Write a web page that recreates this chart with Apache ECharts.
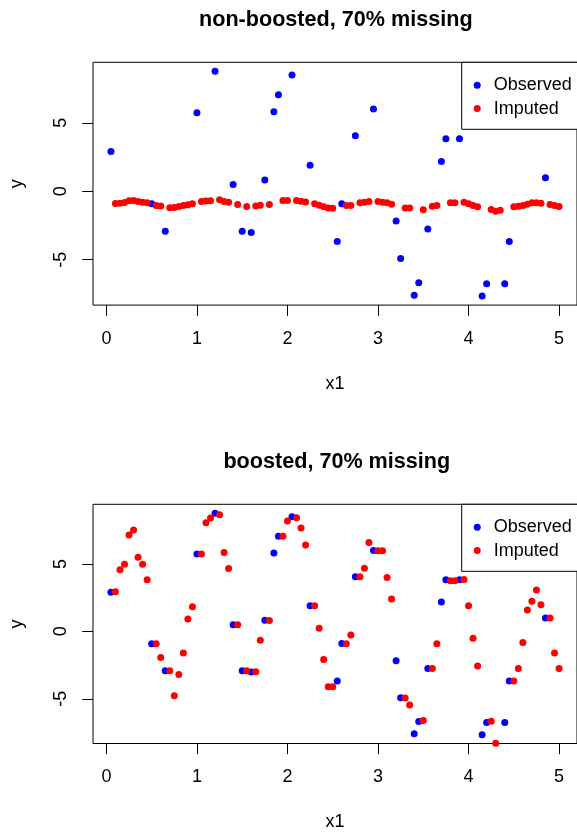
<!DOCTYPE html>
<html>
<head>
<meta charset="utf-8">
<script src="https://cdn.jsdelivr.net/npm/echarts@6/dist/echarts.min.js"></script>
<style>
html,body{margin:0;padding:0;background:#fff;}
#c{width:577px;height:832px;}
</style>
</head>
<body>
<div id="c"></div>
<script>
// ---- data ----
const titles = ['non-boosted, 70% missing', 'boosted, 70% missing'];
const legendNames = ['Observed', 'Imputed'];
const xTicks = [0, 1, 2, 3, 4, 5];
const yTicks = [-5, 0, 5];

const obsX = [0.05,0.50,0.65,1.00,1.20,1.40,1.50,1.60,1.75,1.85,1.90,2.05,2.25,2.55,2.60,2.75,2.95,3.20,3.25,3.40,3.45,3.55,3.70,3.75,3.90,4.15,4.20,4.40,4.45,4.85];
const obsY = [2.90,-0.92,-2.93,5.74,8.76,0.49,-2.93,-3.01,0.82,5.81,7.05,8.49,1.90,-3.68,-0.91,4.05,6.00,-2.18,-4.92,-7.59,-6.68,-2.75,2.17,3.83,3.83,-7.66,-6.76,-6.76,-3.68,0.98];

const impX = [0.10,0.15,0.20,0.25,0.30,0.35,0.40,0.45,0.55,0.60,0.70,0.75,0.80,0.85,0.90,0.95,1.05,1.10,1.15,1.25,1.30,1.35,1.45,1.55,1.65,1.70,1.80,1.95,2.00,2.10,2.15,2.20,2.30,2.35,2.40,2.45,2.50,2.65,2.70,2.80,2.85,2.90,3.00,3.05,3.10,3.15,3.30,3.35,3.50,3.60,3.65,3.80,3.85,3.95,4.00,4.05,4.10,4.25,4.30,4.35,4.50,4.55,4.60,4.65,4.70,4.75,4.80,4.90,4.95,5.00];

const impNonBoosted = [-0.90,-0.88,-0.82,-0.70,-0.68,-0.75,-0.80,-0.85,-1.05,-1.08,-1.20,-1.18,-1.12,-1.05,-0.98,-0.92,-0.75,-0.72,-0.70,-0.62,-0.75,-0.80,-0.97,-1.12,-1.08,-1.02,-0.97,-0.68,-0.68,-0.68,-0.73,-0.78,-0.92,-1.02,-1.14,-1.22,-1.24,-1.05,-1.05,-0.85,-0.80,-0.75,-0.75,-0.80,-0.85,-0.95,-1.22,-1.22,-1.36,-1.09,-1.05,-0.85,-0.85,-0.80,-0.92,-1.05,-1.14,-1.34,-1.46,-1.39,-1.14,-1.09,-1.05,-0.95,-0.85,-0.85,-0.88,-0.97,-1.05,-1.12];

const impBoosted = [2.93,4.56,4.98,7.14,7.51,5.49,4.98,3.82,-0.93,-1.94,-2.93,-4.77,-3.20,-1.60,0.91,1.82,5.74,8.05,8.40,8.64,5.84,4.66,0.49,-2.92,-3.00,-0.66,0.81,7.04,8.18,8.42,7.66,6.40,1.90,0.22,-2.09,-4.11,-4.11,-0.93,-0.27,4.04,4.68,6.58,5.98,5.98,3.99,2.39,-4.95,-5.46,-6.62,-2.75,-0.93,3.74,3.74,3.84,1.90,-0.51,-2.58,-6.67,-8.30,-9.00,-3.69,-2.75,-0.83,1.58,2.22,3.06,1.97,0.99,-1.60,-2.75];

// ---- R-style axis ranges (4% extension of data range) ----
const allX = obsX.concat(impX);
const xLo = Math.min(...allX), xHi = Math.max(...allX);
const xMin = xLo - 0.04 * (xHi - xLo), xMax = xHi + 0.04 * (xHi - xLo);
const yLo = Math.min(...obsY), yHi = Math.max(...obsY);
const yMin = yLo - 0.04 * (yHi - yLo), yMax = yHi + 0.04 * (yHi - yLo);

const FONT = "'Liberation Sans', Arial, sans-serif";
const grids = [
  {left: 91.5, top: 62.3, width: 488.6, height: 242.8},
  {left: 92.5, top: 504.3, width: 488.6, height: 240.2}
];

const pair = (xs, ys) => xs.map((x, i) => [x, ys[i]]);

const chart = echarts.init(document.getElementById('c'), null, {renderer: 'canvas'});

const xAxes = grids.map((g, i) => ({
  type: 'value', gridIndex: i, min: xMin, max: xMax, position: 'bottom',
  name: 'x1', nameLocation: 'middle', nameGap: 69.5,
  nameTextStyle: {fontFamily: FONT, fontSize: 18, color: '#000'},
  axisLine: {show: false, onZero: false},
  splitLine: {show: false},
  axisTick: {show: true, length: 10.7, inside: false, customValues: xTicks, lineStyle: {color: '#000', width: 1}},
  axisLabel: {customValues: xTicks, margin: 24.5, fontFamily: FONT, fontSize: 18, color: '#000', lineHeight: 18}
}));
const yAxes = grids.map((g, i) => ({
  type: 'value', gridIndex: i, min: yMin, max: yMax, position: 'left',
  name: 'y', nameLocation: 'middle', nameGap: 67, nameRotate: 90,
  nameTextStyle: {fontFamily: FONT, fontSize: 18, color: '#000'},
  axisLine: {show: false, onZero: false},
  splitLine: {show: false},
  axisTick: {show: true, length: 10.7, inside: false, customValues: yTicks, lineStyle: {color: '#000', width: 1}},
  axisLabel: {customValues: yTicks, rotate: 90, margin: 22.5, fontFamily: FONT, fontSize: 18, color: '#000', lineHeight: 18}
}));

const mkScatter = (name, data, idx, color) => ({
  type: 'scatter', name: name, xAxisIndex: idx, yAxisIndex: idx,
  data: data, symbol: 'circle', symbolSize: 7,
  itemStyle: {color: color, opacity: 1},
  emphasis: {disabled: true}, animation: false
});

const series = [
  mkScatter(legendNames[0], pair(obsX, obsY), 0, '#0000ff'),
  mkScatter(legendNames[1], pair(impX, impNonBoosted), 0, '#ff0000'),
  mkScatter(legendNames[0], pair(obsX, obsY), 1, '#0000ff'),
  mkScatter(legendNames[1], pair(impX, impBoosted), 1, '#ff0000')
];

const legends = grids.map(g => ({
  orient: 'vertical', left: 461.7, top: g.top,
  data: legendNames, selectedMode: false,
  icon: 'circle', itemWidth: 23.2, itemHeight: 7, itemGap: 5.3,
  padding: [14, 30, 11.7, 12],
  borderColor: '#000', borderWidth: 1, backgroundColor: '#fff',
  textStyle: {fontFamily: FONT, fontSize: 18, color: '#000', lineHeight: 18}
}));

const titleEls = grids.map((g, i) => ({
  type: 'text', x: g.left + g.width / 2, y: g.top - 42.3,
  style: {text: titles[i], font: 'bold 21.6px ' + FONT, fill: '#000', textAlign: 'center', textVerticalAlign: 'middle'}
}));

chart.setOption({
  animation: false,
  backgroundColor: '#fff',
  grid: grids.map(g => Object.assign({show: true, borderColor: '#000', borderWidth: 1, backgroundColor: 'transparent', containLabel: false}, g)),
  xAxis: xAxes,
  yAxis: yAxes,
  legend: legends,
  series: series,
  graphic: titleEls
});
</script>
</body>
</html>
